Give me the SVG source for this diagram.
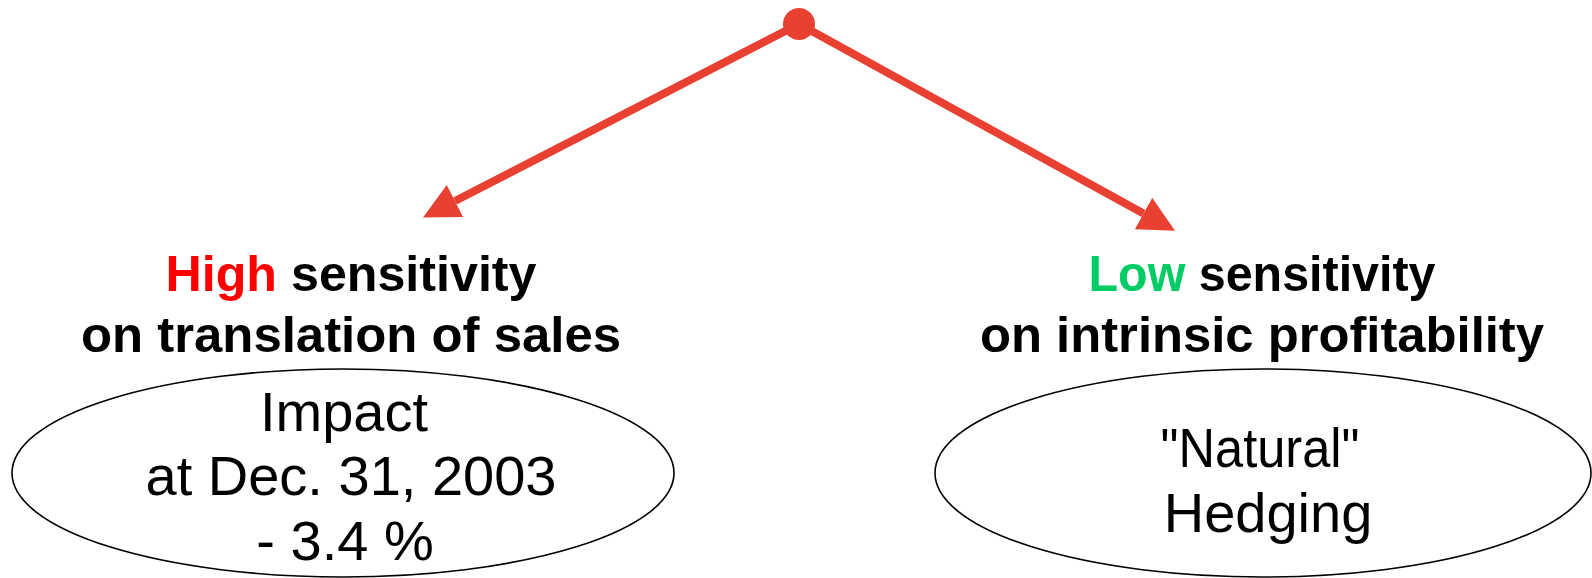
<svg xmlns="http://www.w3.org/2000/svg" width="1592" height="578" viewBox="0 0 1592 578">
<style>
.head{font-family:"Liberation Sans",Arial,sans-serif;font-weight:bold;font-size:50px;fill:#000}
.body{font-family:"Liberation Sans",Arial,sans-serif;font-size:56px;fill:#000}
.oval{fill:#fff;stroke:#000;stroke-width:1.6}
.conn{stroke:#e84132;stroke-width:8;fill:none}
</style>
<defs>
<marker id="ah" viewBox="0 -18 36 36" markerWidth="36" markerHeight="36" refX="0" refY="0" markerUnits="userSpaceOnUse" orient="auto">
<path d="M0,-18 L36,0 L0,18 z" fill="#e84132"/>
</marker>
</defs>
<g id="connectors">
<line class="conn" x1="799" y1="24" x2="455" y2="201" marker-end="url(#ah)"/>
<line class="conn" x1="799" y1="24" x2="1143.5" y2="213.5" marker-end="url(#ah)"/>
<circle cx="799" cy="24" r="16" fill="#e84132"/>
</g>
<g id="left-node">
<text class="head" x="351" y="291" text-anchor="middle" textLength="371" lengthAdjust="spacingAndGlyphs"><tspan fill="#ff0000">High</tspan> sensitivity</text>
<text class="head" x="351" y="352" text-anchor="middle" textLength="540" lengthAdjust="spacingAndGlyphs">on translation of sales</text>
<ellipse class="oval" cx="343" cy="473" rx="331" ry="104"/>
<text class="body" x="344" y="431" text-anchor="middle">Impact</text>
<text class="body" x="351" y="495" text-anchor="middle">at Dec. 31, 2003</text>
<text class="body" x="345" y="560" text-anchor="middle">- 3.4 %</text>
</g>
<g id="right-node">
<text class="head" x="1262" y="291" text-anchor="middle" textLength="347" lengthAdjust="spacingAndGlyphs"><tspan fill="#00cc66">Low</tspan> sensitivity</text>
<text class="head" x="1262" y="352" text-anchor="middle" textLength="564" lengthAdjust="spacingAndGlyphs">on intrinsic profitability</text>
<ellipse class="oval" cx="1263" cy="473" rx="328" ry="104"/>
<text class="body" x="1260" y="467" text-anchor="middle" textLength="199" lengthAdjust="spacingAndGlyphs">"Natural"</text>
<text class="body" x="1268" y="532" text-anchor="middle">Hedging</text>
</g>
</svg>
